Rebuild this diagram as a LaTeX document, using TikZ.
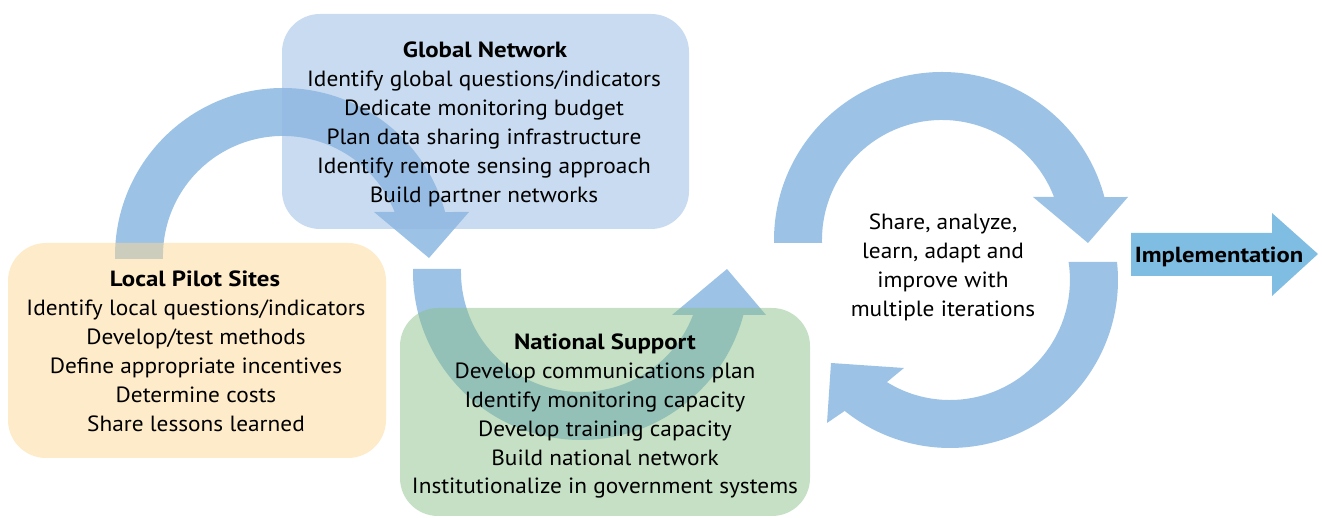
\documentclass[tikz,border=0pt]{standalone}
\usepackage{fontspec}
\setmainfont{PT Sans}[FakeStretch=1.06]
\newfontfamily\headfont{PT Sans}[FakeStretch=1.13]
\definecolor{arcblue}{HTML}{9CC3E6}
\definecolor{implblue}{HTML}{7FBDE2}
\definecolor{globalfill}{HTML}{93B7E1}
\definecolor{localfill}{HTML}{FDD793}
\definecolor{natfill}{HTML}{8BC189}
\begin{document}
\begin{tikzpicture}[x=1pt,y=1pt,
  panel/.style={rectangle, rounded corners=38pt, fill opacity=0.5, draw=none, inner sep=0pt},
  line/.style={anchor=base, inner sep=0pt, font=\fontsize{22}{29}\selectfont},
  head/.style={anchor=base, inner sep=0pt, font=\headfont\bfseries\fontsize{22}{29}\selectfont},
  bigarrow/.style={fill=arcblue}
]
\useasboundingbox (0,0) rectangle (1322,518);

% curved arrows (drawn first, panels blend over them)
\fill[bigarrow] (115,259) -- (115,262) arc[start angle=180, end angle=15.18, radius=168]
  -- (469,306) -- (429,260) -- (374,306) -- (394.6,306)
  arc[start angle=21.5, end angle=180, radius=120] -- (163,259) -- cycle;
\fill[bigarrow] (413,249) -- (413,246) arc[start angle=180, end angle=345.2, radius=168]
  -- (766,203) -- (727,249) -- (672,203) -- (693,203)
  arc[start angle=339, end angle=180, radius=120] -- (461,249) -- cycle;
\fill[bigarrow] (774,275) -- (774,278) arc[start angle=180, end angle=14.8, radius=168]
  -- (1128,321) -- (1088,275) -- (1033,321) -- (1054,321)
  arc[start angle=21, end angle=180, radius=120] -- (822,275) -- cycle;
\fill[bigarrow] (1117,256) arc[start angle=6.15, end angle=-128.8, radius=168]
  -- (827,95) -- (831,155) -- (904,150) -- (886.9,135.9)
  arc[start angle=-121.7, end angle=8.63, radius=120] -- cycle;

% implementation arrow
\fill[implblue] (1131,242) -- (1272,242) -- (1272,222) -- (1318,264)
  -- (1272,305) -- (1272,285) -- (1131,285) -- cycle;
\node[head, font=\headfont\bfseries\fontsize{21.8}{29}\selectfont] (impl) at (1219,255) {Implementation};

% panels
\node[panel, fill=globalfill, minimum width=407pt, minimum height=215pt] (global) at (485.5,396.5) {};
\node[panel, fill=localfill, minimum width=378pt, minimum height=215pt] (local) at (197,167.5) {};
\node[panel, fill=natfill, minimum width=410pt, minimum height=208pt] (national) at (605,106) {};

% panel texts
\node[head] (g0) at (485,460) {Global Network};
\foreach \t [count=\i] in {Identify global questions/indicators, Dedicate monitoring budget,
  Plan data sharing infrastructure, Identify remote sensing approach, Build partner networks}
  \node[line] (g\i) at (484,460-29*\i) {\t};

\node[head] (l0) at (195,231) {Local Pilot Sites};
\foreach \t [count=\i] in {Identify local questions/indicators, Develop/test methods,
  Define appropriate incentives, Determine costs, Share lessons learned}
  \node[line] (l\i) at (196,231-29*\i) {\t};

\node[head] (n0) at (605,168) {National Support};
\foreach \t [count=\i] in {Develop communications plan, Identify monitoring capacity,
  Develop training capacity, Build national network, Institutionalize in government systems}
  \node[line] (n\i) at (605,168-28.8*\i) {\t};

% cycle text
\foreach \t [count=\i from 0] in {{Share, analyze,}, {learn, adapt and}, improve with, multiple iterations}
  \node[line] (c\i) at (943,288-28.7*\i) {\t};
\end{tikzpicture}
\end{document}
